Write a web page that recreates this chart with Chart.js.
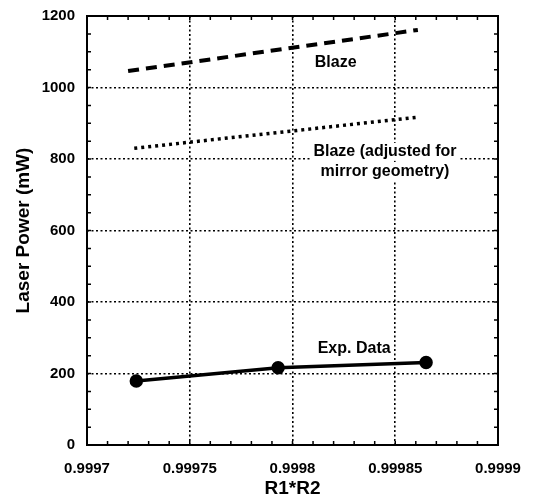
<!DOCTYPE html>
<html>
<head>
<meta charset="utf-8">
<script src="https://cdn.jsdelivr.net/npm/chart.js@4"></script>
<style>
html,body{margin:0;padding:0;background:#fff;}
#wrap{width:540px;height:504px;position:relative;}
</style>
</head>
<body>
<div id="wrap"><canvas id="c" width="540" height="504"></canvas></div>
<script>
// ---- data ----
const blazeX = [0.99972, 0.999861];
const blazeY = [1046, 1161];
const adjX = [0.999723, 0.999861];
const adjY = [830, 917];
const expX = [0.999724, 0.999793, 0.999865];
const expY = [179, 216, 231];
const xTickValues = [0.9997, 0.99975, 0.9998, 0.99985, 0.9999];
const xTickLabels = ['0.9997', '0.99975', '0.9998', '0.99985', '0.9999'];
const yTickValues = [0, 200, 400, 600, 800, 1000, 1200];
const yTickLabels = ['0', '200', '400', '600', '800', '1000', '1200'];
const labelTexts = [['Blaze'], ['Blaze (adjusted for', 'mirror geometry)'], ['Exp. Data']];
const labelX = [0.999821, 0.999845, 0.99983];
const labelY = [1071, 792, 271];

const toPts = (xs, ys) => xs.map((x, i) => ({x: x, y: ys[i]}));
const FONT = 'Liberation Sans, Arial, sans-serif';

const framePlugin = {
  id: 'frame',
  afterDraw(chart) {
    const ctx = chart.ctx, a = chart.chartArea;
    const xs = chart.scales.x, ys = chart.scales.y;
    ctx.save();
    ctx.strokeStyle = '#000';
    ctx.lineWidth = 1.5;
    const tl = 4;
    for (let i = 0; i <= 20; i++) {
      const px = xs.getPixelForValue(xTickValues[0] + i * 0.00001);
      ctx.beginPath();
      ctx.moveTo(px, a.bottom); ctx.lineTo(px, a.bottom - tl);
      ctx.moveTo(px, a.top); ctx.lineTo(px, a.top + tl);
      ctx.stroke();
    }
    for (let i = 0; i <= 24; i++) {
      const py = ys.getPixelForValue(i * 50);
      ctx.beginPath();
      ctx.moveTo(a.left, py); ctx.lineTo(a.left + tl, py);
      ctx.moveTo(a.right, py); ctx.lineTo(a.right - tl, py);
      ctx.stroke();
    }
    ctx.lineWidth = 2;
    ctx.strokeRect(a.left, a.top, a.right - a.left, a.bottom - a.top);
    ctx.font = 'bold 16px ' + FONT;
    ctx.textAlign = 'center';
    ctx.textBaseline = 'middle';
    labelTexts.forEach((lines, i) => {
      const cx = xs.getPixelForValue(labelX[i]);
      const cy = ys.getPixelForValue(labelY[i]);
      const lh = 20;
      lines.forEach((t, j) => {
        const yy = cy + (j - (lines.length - 1) / 2) * lh;
        const w = ctx.measureText(t).width;
        ctx.fillStyle = '#fff';
        ctx.fillRect(cx - w / 2 - 3, yy - 9, w + 6, 18);
        ctx.fillStyle = '#000';
        ctx.fillText(t, cx, yy);
      });
    });
    ctx.restore();
  }
};

new Chart(document.getElementById('c'), {
  type: 'scatter',
  data: {
    datasets: [
      {label: 'Blaze', data: toPts(blazeX, blazeY), showLine: true, borderColor: '#000', borderWidth: 4, borderDash: [11, 7], pointRadius: 0, fill: false},
      {label: 'Blaze adjusted', data: toPts(adjX, adjY), showLine: true, borderColor: '#000', borderWidth: 3.5, borderDash: [3, 4], pointRadius: 0, fill: false},
      {label: 'Exp. Data', data: toPts(expX, expY), showLine: true, borderColor: '#000', borderWidth: 3.5, pointRadius: 5, pointBackgroundColor: '#000', pointBorderColor: '#000', fill: false}
    ]
  },
  options: {
    responsive: false,
    animation: false,
    events: [],
    layout: {padding: {left: 0, right: 42, top: 16, bottom: 0}},
    plugins: {legend: {display: false}, tooltip: {enabled: false}},
    scales: {
      x: {
        type: 'linear', min: 0.9997, max: 0.9999,
        afterBuildTicks: s => { s.ticks = xTickValues.map(v => ({value: v})); },
        afterFit: s => { s.height = 59; s.paddingLeft = 0; s.paddingRight = 0; },
        ticks: {
          autoSkip: false, maxRotation: 0, color: '#000', padding: 15,
          font: {family: FONT, size: 15, weight: 'bold'},
          callback: (v, i) => xTickLabels[i]
        },
        grid: {color: '#000', lineWidth: 1.6, drawTicks: false, tickLength: 0},
        border: {display: false, dash: [2, 2.5]},
        title: {display: true, text: 'R1*R2', color: '#000', font: {family: FONT, size: 19, weight: 'bold'}, padding: {top: 3}}
      },
      y: {
        type: 'linear', min: 0, max: 1200,
        afterBuildTicks: s => { s.ticks = yTickValues.map(v => ({value: v})); },
        afterFit: s => { s.width = 87; s.paddingTop = 0; s.paddingBottom = 0; },
        ticks: {
          autoSkip: false, color: '#000', padding: 12,
          font: {family: FONT, size: 15, weight: 'bold'},
          callback: (v, i) => yTickLabels[i]
        },
        grid: {color: '#000', lineWidth: 1.6, drawTicks: false, tickLength: 0},
        border: {display: false, dash: [2, 2.5]},
        title: {display: true, text: 'Laser Power (mW)', color: '#000', font: {family: FONT, size: 19, weight: 'bold'}, padding: {top: 12, bottom: 4}}
      }
    }
  },
  plugins: [framePlugin]
});
</script>
</body>
</html>
